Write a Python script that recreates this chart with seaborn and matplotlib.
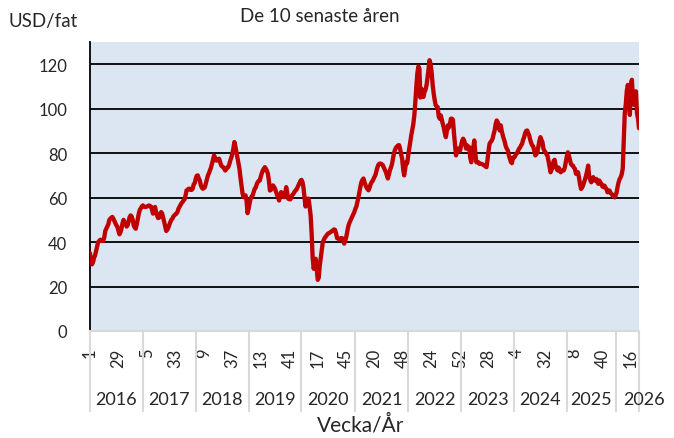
import matplotlib
matplotlib.use("Agg")
import matplotlib.pyplot as plt
import matplotlib.transforms as mtransforms
import pandas as pd
import seaborn as sns

# weekly price, USD/fat
years = [2016, 2017, 2018, 2019, 2020, 2021, 2022, 2023, 2024, 2025, 2026]
weeks_2020 = list(range(1, 54))
weeks_2025 = [w for w in range(1, 53) if w not in (27, 28, 29, 30)]
weeks_2026 = list(range(1, 25))

price_2016 = [35, 31, 30, 31, 33, 34, 36, 38, 40, 40.5, 41, 41, 40.5, 40.5, 42, 45, 46, 47,
              48, 50, 50.5, 51, 51.3, 50.5, 49.5, 48.5, 47.5, 46.8, 45, 43.5, 44.5, 46, 48.5,
              50, 49, 48.3, 47, 47.5, 49.5, 51.3, 52, 51.5, 50, 47.5, 46.5, 46, 48, 50.5,
              52.8, 54.5, 55.3, 56]
price_2017 = [56.5, 56, 55.8, 55.8, 56, 56.2, 56.5, 56.2, 56, 54.5, 52.8, 54.5, 55.8, 53.5,
              52, 50.8, 51, 52.8, 53.5, 52.8, 51, 49, 47, 45, 45.5, 46.5, 47.8, 49, 50, 50.5,
              51.5, 52, 52.5, 52.8, 53.5, 55, 55.8, 56.5, 57.5, 58, 58.8, 59.2, 61, 63.3,
              63.5, 64, 64, 63.5, 63.5, 64, 66, 66.5]
price_2018 = [68.5, 69.8, 70, 68.6, 67.7, 65.6, 64.5, 64, 64.3, 64.7, 66.5, 68.5, 70, 71,
              72.2, 73.5, 75.2, 77, 79, 78, 76.7, 76.7, 77.2, 77.5, 76, 74.5, 74, 73.7, 73,
              72.2, 72.8, 73.5, 73.7, 75, 76.7, 78, 79.7, 82, 85, 83, 80.4, 78, 75.5, 73, 69,
              65.5, 62, 60.2, 60.5, 61, 58.5, 53]
price_2019 = [55, 57.5, 59.5, 60.5, 61, 62.5, 64, 64.5, 66, 67, 67.5, 67.7, 69.5, 71, 72.2,
              73, 73.7, 73, 72, 70.7, 67.5, 63.2, 63.5, 64.5, 65.5, 64.8, 64, 62.5, 61.3, 60,
              58.7, 60.5, 62.5, 61.5, 60.5, 60.2, 62, 64.7, 62, 59.5, 59.3, 59.2, 60, 61.2,
              61.7, 62.5, 63.2, 63.5, 64.5, 65.5, 66.5, 67.5]
price_2020 = [68, 67, 64.5, 60, 56, 58.8, 59.5, 59.5, 56, 52, 44, 33, 28, 30, 32.5, 28, 23,
              24, 29.5, 33, 36.5, 40, 41, 42, 42.5, 43.2, 43.8, 44, 44.3, 44.6, 45, 45.3,
              45.7, 45.5, 44, 41.8, 41.5, 41.5, 41.5, 41.8, 41.8, 40.5, 39.3, 40.5, 42.2,
              44.5, 47, 48.5, 49.5, 50.5, 51.5, 52.5, 53.5]
price_2021 = [55, 56, 58, 60, 62.5, 65, 67, 68, 68.6, 67, 65.6, 64.5, 63.8, 63.3, 64.5, 66,
              67, 67.5, 68.5, 69.5, 70.5, 72.5, 74, 75, 75.3, 75.3, 75, 74.6, 73.5, 72.5,
              71.5, 70, 68.6, 70.5, 72.3, 73.5, 75, 77.5, 80, 81.5, 82.5, 83, 83.5, 83.6, 82,
              79.5, 77.5, 73, 70, 73, 76, 75.5]
price_2022 = [79, 82, 85, 88, 90.5, 93, 97, 103, 110, 116, 119, 118, 105, 109, 106, 105.3,
              107.5, 108.5, 110.5, 114, 118, 121.8, 120, 116.5, 111, 107, 104, 101.5, 101,
              100.7, 96.5, 95.5, 97, 95, 93.2, 91.5, 89, 87.2, 90, 92.5, 91.5, 93, 95.5, 95.5,
              95, 89, 84, 79, 80.5, 82, 81.5, 81.2]
price_2023 = [83.5, 85.5, 86.5, 85.7, 84, 82, 83.5, 83, 82.7, 78, 75.9, 80, 82.5, 85.7, 80,
              75.9, 76, 75.9, 75.2, 75.2, 75.2, 75, 74.7, 74.4, 74, 73.7, 77, 81, 84.2, 85,
              85.5, 86.5, 88.5, 90.2, 93, 94.7, 94, 92, 90.2, 92.5, 90, 88, 86.5, 85, 83, 82,
              81.2, 79, 77.5, 76, 75.5, 78]
price_2024 = [78, 78.5, 79.5, 80, 81, 82, 82.5, 83.5, 84.2, 86, 87.2, 89, 90, 90.2, 89, 88,
              86, 84.5, 83.5, 83, 81, 79, 79.5, 80.4, 83, 85.5, 87.2, 86, 85, 82, 81, 80.4,
              79.5, 78.9, 76.5, 74, 71.4, 72.5, 73.7, 76.5, 77, 74.4, 73, 72.2, 73.5, 72.5,
              71.4, 72, 72.2, 72.2, 73.5, 75.9]
price_2025 = [78.5, 80.4, 79, 77, 75.2, 74.6, 74.4, 73.5, 72.9, 70.7, 71, 71.4, 69, 66, 63.9,
              64.5, 65.5, 66.9, 68.5, 70, 72, 74.4, 69.5, 68, 66.9, 68.5, 69.2, 67.7, 68,
              68.4, 67, 66.2, 67.7, 66.8, 66.2, 65, 64.7, 65.4, 64.5, 63.9, 62.4, 62.8, 63.2,
              62, 61.7, 61, 60.9, 60.1]
price_2026 = [61, 62.4, 65, 67, 68.4, 69.2, 70.5, 73, 85, 98, 102, 108, 110.7, 107.8, 97.2,
              110.7, 113, 105, 101.7, 105, 107.8, 98, 95.7, 91.2]

y_ticks = [0, 20, 40, 60, 80, 100, 120]
label_step = 28

week_lists = {y: list(range(1, 53)) for y in years}
week_lists[2020] = weeks_2020
week_lists[2025] = weeks_2025
week_lists[2026] = weeks_2026
prices = {2016: price_2016, 2017: price_2017, 2018: price_2018, 2019: price_2019,
          2020: price_2020, 2021: price_2021, 2022: price_2022, 2023: price_2023,
          2024: price_2024, 2025: price_2025, 2026: price_2026}

rows = []
for y in years:
    for w, p in zip(week_lists[y], prices[y]):
        rows.append((y, w, p))
df = pd.DataFrame(rows, columns=["year", "week", "price"])
df["pos"] = range(len(df))

sns.set_style("white")
plt.rcParams["font.family"] = ["Lato", "DejaVu Sans"]

fig = plt.figure(figsize=(6.74, 4.39), dpi=100)
ax = fig.add_axes([90 / 674, 1 - 332 / 439, 549 / 674, 289 / 439])
ax.set_facecolor("#DCE6F2")

for v in y_ticks[1:]:
    ax.axhline(v, color="black", lw=1.3, zorder=1)

sns.lineplot(data=df, x="pos", y="price", color="#C00000", lw=3.1, ax=ax,
             zorder=3, solid_joinstyle="round")

ax.set_xlim(0, len(df) - 1)
ax.set_ylim(0, 130)
ax.set_yticks(y_ticks)
ax.tick_params(axis="y", direction="inout", length=9, width=1.2, color="black",
               labelsize=12, pad=12)

tick_pos = df["pos"][::label_step]
ax.set_xticks(tick_pos)
ax.set_xticklabels(df["week"][::label_step], rotation=90, fontsize=12)
ax.tick_params(axis="x", length=0, pad=12)
ax.set_xlabel("")
ax.set_ylabel("")

for s in ["top", "right"]:
    ax.spines[s].set_visible(False)
ax.spines["left"].set_color("black")
ax.spines["left"].set_linewidth(1.3)
ax.spines["bottom"].set_color("#D9D9D9")
ax.spines["bottom"].set_linewidth(1.5)

# two-level category axis: year separators and labels
trans = mtransforms.blended_transform_factory(ax.transData, ax.transAxes)
starts = df.groupby("year")["pos"].min().tolist()
bounds = starts + [len(df) - 1]
for b in bounds:
    ax.plot([b, b], [0, -0.277], transform=trans, color="#D9D9D9", lw=1.5,
            clip_on=False)
for i, y in enumerate(years):
    left, right = bounds[i], bounds[i + 1]
    if right - left < 30:
        ax.text(left + 7, -0.235, str(y), transform=trans, ha="left", va="center",
                fontsize=13)
    else:
        ax.text((left + right) / 2, -0.235, str(y), transform=trans, ha="center",
                va="center", fontsize=13)

fig.text(320 / 674, 1 - 16 / 439, "De 10 senaste åren", ha="center", va="center",
         fontsize=13.5)
fig.text(8 / 674, 1 - 21 / 439, "USD/fat", ha="left", va="center", fontsize=13.5)
fig.text(361 / 674, 1 - 425 / 439, "Vecka/År", ha="center", va="center", fontsize=15)

fig.savefig("out.png", dpi=100, facecolor="white")
